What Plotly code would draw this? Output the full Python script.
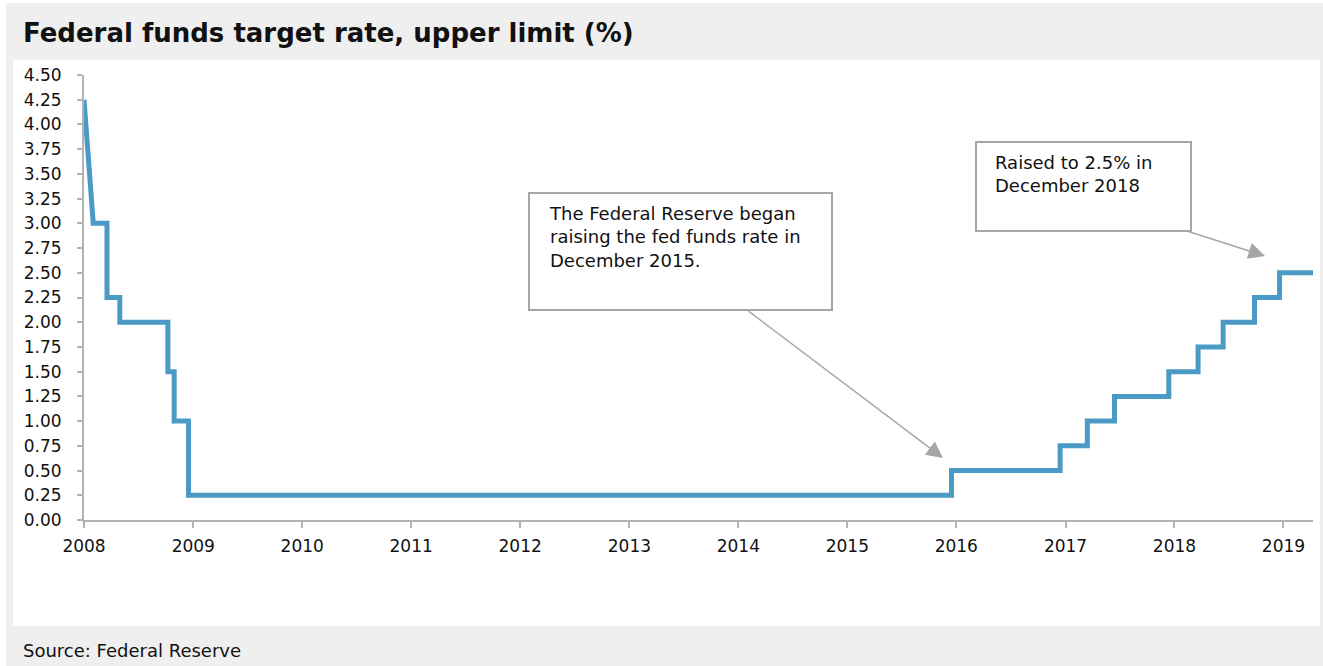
import plotly.graph_objects as go

# ---- data ----
start_dates = ["2008-01-01", "2008-02-01"]
start_rates = [4.25, 3.00]
change_dates = ["2008-03-18", "2008-04-30", "2008-10-08", "2008-10-29", "2008-12-16",
                "2015-12-16", "2016-12-14", "2017-03-15", "2017-06-14", "2017-12-13",
                "2018-03-21", "2018-06-13", "2018-09-26", "2018-12-19"]
new_rates = [2.25, 2.00, 1.50, 1.00, 0.25,
             0.50, 0.75, 1.00, 1.25, 1.50,
             1.75, 2.00, 2.25, 2.50]
end_date = "2019-04-10"
y_ticks = [i * 0.25 for i in range(19)]
years = list(range(2008, 2020))

title_text = "Federal funds target rate, upper limit (%)"
source_text = "Source: Federal Reserve"
note1 = "The Federal Reserve began<br>raising the fed funds rate in<br>December 2015."
note2 = "Raised to 2.5% in<br>December 2018"

# build step series
xs = list(start_dates)
ys = list(start_rates)
prev = start_rates[-1]
for d, r in zip(change_dates, new_rates):
    xs += [d, d]
    ys += [prev, r]
    prev = r
xs.append(end_date)
ys.append(prev)

W, H = 1323, 666
L, R, T, B = 84, 10, 75, 146
PW, PH = W - L - R, H - T - B


def px(p):  # page pixel -> paper x
    return (p - L) / PW


def py(p):  # page pixel -> paper y
    return (H - B - p) / PH


FONT = "DejaVu Sans"
GRAY = "#efefef"
AX = "#b3b3b3"
BOXC = "#a6a6a6"
TXT = "#111111"

fig = go.Figure()
fig.add_trace(go.Scatter(x=xs, y=ys, mode="lines",
                         line=dict(color="#4a9ac5", width=5),
                         hoverinfo="skip", showlegend=False))

shapes = [
    dict(type="rect", xref="paper", yref="paper", x0=px(6), x1=px(1323), y0=py(3), y1=py(666),
         fillcolor=GRAY, line=dict(width=0), layer="below"),
    dict(type="rect", xref="paper", yref="paper", x0=px(13), x1=px(1320), y0=py(60), y1=py(626),
         fillcolor="white", line=dict(width=0), layer="below"),
    dict(type="rect", xref="paper", yref="paper", x0=px(529), x1=px(832), y0=py(193), y1=py(310),
         fillcolor="white", line=dict(color=BOXC, width=2)),
    dict(type="rect", xref="paper", yref="paper", x0=px(976), x1=px(1191), y0=py(142), y1=py(231),
         fillcolor="white", line=dict(color=BOXC, width=2)),
]

annotations = [
    dict(text=f"<b>{title_text}</b>", xref="paper", yref="paper", x=px(21), y=py(33),
         xanchor="left", yanchor="middle", showarrow=False,
         font=dict(family=FONT, size=26, color=TXT)),
    dict(text=source_text, xref="paper", yref="paper", x=px(21), y=py(650),
         xanchor="left", yanchor="middle", showarrow=False,
         font=dict(family=FONT, size=18, color=TXT)),
    dict(text=note1, xref="paper", yref="paper", x=px(547), y=py(237),
         xanchor="left", yanchor="middle", align="left", showarrow=False,
         font=dict(family=FONT, size=18, color=TXT)),
    dict(text=note2, xref="paper", yref="paper", x=px(993), y=py(174.5),
         xanchor="left", yanchor="middle", align="left", showarrow=False,
         font=dict(family=FONT, size=18, color=TXT)),
    dict(text="", xref="paper", yref="paper", x=px(943), y=py(458),
         axref="pixel", ayref="pixel", ax=747 - 943, ay=310 - 458,
         showarrow=True, arrowhead=2, arrowsize=2.2, arrowwidth=1.5, arrowcolor=BOXC),
    dict(text="", xref="paper", yref="paper", x=px(1265), y=py(256),
         axref="pixel", ayref="pixel", ax=1187 - 1265, ay=231 - 256,
         showarrow=True, arrowhead=2, arrowsize=2.2, arrowwidth=1.5, arrowcolor=BOXC),
]

fig.update_layout(
    width=W, height=H,
    margin=dict(l=L, r=R, t=T, b=B),
    paper_bgcolor="white", plot_bgcolor="rgba(0,0,0,0)",
    shapes=shapes, annotations=annotations,
    font=dict(family=FONT, size=17, color=TXT),
    showlegend=False,
)
fig.update_xaxes(
    type="date", range=["2008-01-01", end_date],
    tickvals=[f"{y}-01-01" for y in years], ticktext=[str(y) for y in years],
    showgrid=False, zeroline=False, showline=True, linecolor=AX, linewidth=2,
    ticks="outside", ticklen=6, tickwidth=1.5, tickcolor=AX,
    tickfont=dict(family=FONT, size=17, color=TXT), ticklabelstandoff=4,
)
fig.update_yaxes(
    range=[0, 4.5], tickvals=y_ticks, ticktext=[f"{v:.2f}" for v in y_ticks],
    showgrid=False, zeroline=False, showline=True, linecolor=AX, linewidth=2,
    ticks="outside", ticklen=5, tickwidth=1.5, tickcolor=AX,
    tickfont=dict(family=FONT, size=17, color=TXT), ticklabelstandoff=12,
)

fig.write_html(
    "out.html",
    config={"displayModeBar": False},
    post_script="document.body.style.margin='0';document.body.style.overflow='hidden';",
)
